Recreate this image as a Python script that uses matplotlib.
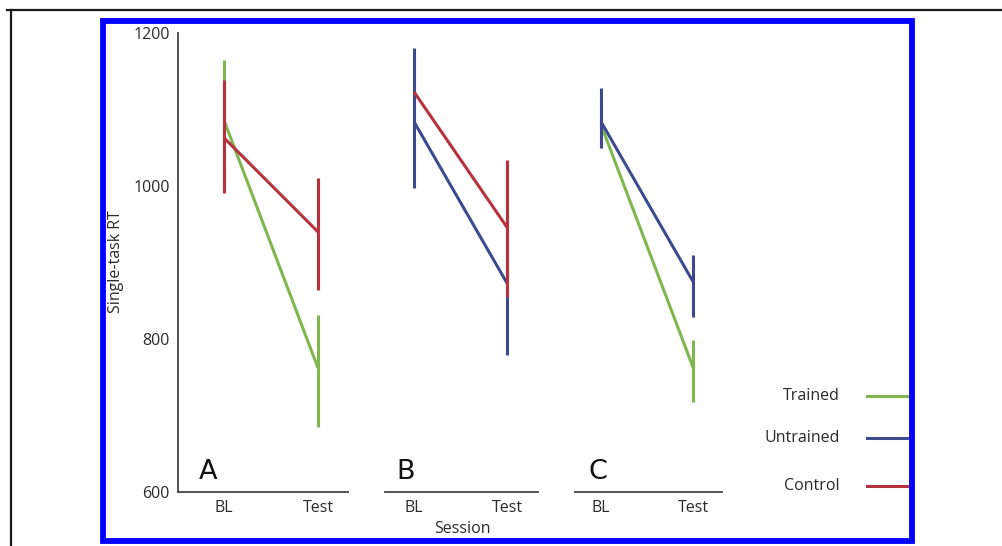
import matplotlib.pyplot as plt
from matplotlib.patches import Rectangle
from matplotlib.lines import Line2D

plt.rcParams['font.family'] = ['Open Sans', 'DejaVu Sans']

sessions = ["BL", "Test"]
panels = ["A", "B", "C"]

# mean, upper, lower per session
trained_A = [1086, 762]
trained_A_hi = [1165, 831]
trained_A_lo = [1007, 685]
control_A = [1063, 940]
control_A_hi = [1139, 1010]
control_A_lo = [991, 864]

untrained_B = [1084, 873]
untrained_B_hi = [1180, 967]
untrained_B_lo = [997, 779]
control_B = [1123, 946]
control_B_hi = [1170, 1034]
control_B_lo = [1075, 855]

untrained_C = [1084, 875]
untrained_C_hi = [1128, 910]
untrained_C_lo = [1050, 829]
trained_C = [1080, 763]
trained_C_hi = [1110, 799]
trained_C_lo = [1050, 718]

GREEN = "#80b64e"
BLUE = "#3d4b8e"
RED = "#b8323d"
W, H = 1002, 546

fig = plt.figure(figsize=(W / 100, H / 100), dpi=100)


def fx(px):
    return px / W


def fy(py):
    return 1 - py / H


def make_ax(x0, x1, xlim, show_y):
    ax = fig.add_axes([fx(x0), fy(492), fx(x1 - x0), fy(33) - fy(492)])
    ax.set_xlim(*xlim)
    ax.set_ylim(600, 1200)
    ax.patch.set_alpha(0)
    for s in ["top", "right"]:
        ax.spines[s].set_visible(False)
    ax.spines["left"].set_visible(show_y)
    for s in ["left", "bottom"]:
        ax.spines[s].set_color("#444444")
        ax.spines[s].set_linewidth(1.3)
    ax.set_xticks([0, 1])
    ax.set_xticklabels(sessions, fontsize=11.5, color="#2a2a2a")
    ax.tick_params(length=0, pad=6)
    if show_y:
        ax.set_yticks([600, 800, 1000, 1200])
        ax.tick_params(axis="y", labelsize=11.5, labelcolor="#2a2a2a", pad=6)
    else:
        ax.set_yticks([])
    return ax


def seg(ax, m, hi, lo, color, zl, zb):
    # mean line plus vertical error bar at each session
    ax.plot([0, 1], m, color=color, lw=2.2, zorder=zl, solid_capstyle="butt")
    for i in range(2):
        ax.plot([i, i], [lo[i], hi[i]], color=color, lw=2.2, zorder=zb[i],
                solid_capstyle="butt")


axA = make_ax(178, 348, (-0.489, 1.319), True)
seg(axA, trained_A, trained_A_hi, trained_A_lo, GREEN, 3, [2, 3])
seg(axA, control_A, control_A_hi, control_A_lo, RED, 4, [4, 2])

axB = make_ax(385, 538, (-0.312, 1.333), False)
seg(axB, control_B, control_B_hi, control_B_lo, RED, 4, [2, 4])
seg(axB, untrained_B, untrained_B_hi, untrained_B_lo, BLUE, 3, [3, 2])

axC = make_ax(575, 722, (-0.283, 1.315), False)
seg(axC, trained_C, trained_C_hi, trained_C_lo, GREEN, 3, [2, 3])
seg(axC, untrained_C, untrained_C_hi, untrained_C_lo, BLUE, 4, [4, 4])

for letter, lx in zip(panels, [199, 396, 588]):
    fig.text(fx(lx), fy(479), letter, fontsize=19.5, family="DejaVu Sans", color="#111111")

fig.text(fx(116), fy(262), "Single-task RT", rotation=90, fontsize=11.5,
         ha="center", va="center", color="#2a2a2a")
fig.text(fx(462), fy(529), "Session", fontsize=11.5, ha="center", va="center", color="#2a2a2a")

# legend
leg = [("Trained", GREEN, 396), ("Untrained", BLUE, 438), ("Control", RED, 486)]
for name, col, yy in leg:
    fig.text(fx(840), fy(yy), name, ha="right", va="center", fontsize=11.5, color="#2a2a2a")
    fig.add_artist(Line2D([fx(867), fx(907)], [fy(yy), fy(yy)], color=col, lw=2.2))

# frames
fig.add_artist(Rectangle((fx(102.5), fy(540.5)), fx(809), fy(20.5) - fy(540.5), fill=False,
                         edgecolor="#0000ff", lw=4.2))
fig.add_artist(Line2D([fx(7), 1], [fy(10), fy(10)], color="#1a1a1a", lw=1.6))
fig.add_artist(Line2D([fx(11), fx(11)], [fy(10), 0], color="#1a1a1a", lw=1.6))

fig.savefig("out.png", dpi=100)
